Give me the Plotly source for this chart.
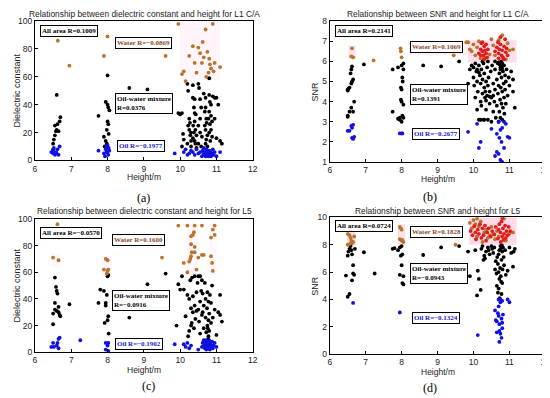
import plotly.graph_objects as go

# ---------------- DATA ----------------
# Panel (a): dielectric constant vs height, L1 C/A
a_water_x = [6.63, 6.95, 7.9, 8.0, 9.6, 9.95, 10.05, 10.1, 10.15, 10.25, 10.35, 10.4, 10.45, 10.5, 10.55, 10.6, 10.62, 10.7, 10.72, 10.75, 10.8, 10.82, 10.85, 10.9, 10.92, 10.95, 11.1, 10.65, 10.78]
a_water_y = [86, 68, 75, 89, 75, 98, 62, 64, 57, 75, 82, 70, 63, 81, 77, 70, 85, 94, 60, 78, 73, 69, 66, 98, 64, 70, 67, 74, 63]
a_mix_x = [6.5, 6.52, 6.55, 6.58, 6.6, 6.62, 6.55, 6.65, 6.68, 6.7, 6.6, 6.5,
           7.75, 7.9, 7.95, 7.98, 8.0, 8.02, 7.95, 8.0, 8.02, 8.05, 7.98, 8.03, 8.0, 7.92,
           8.6, 9.1, 9.95, 10.05,
           10.0, 10.08, 10.1, 10.05, 10.2, 10.22, 10.25, 10.25, 10.28, 10.2, 10.3, 10.3, 10.22, 10.27, 10.3,
           10.35, 10.35, 10.38, 10.4, 10.4, 10.42, 10.45, 10.35, 10.4, 10.42, 10.45, 10.38, 10.4, 10.43, 10.36,
           10.5, 10.52, 10.55, 10.58, 10.5, 10.55, 10.6, 10.5, 10.58, 10.55,
           10.65, 10.7, 10.7, 10.72, 10.68, 10.7, 10.75, 10.72, 10.7, 10.75, 10.68, 10.73,
           10.8, 10.8, 10.82, 10.85, 10.8, 10.78, 10.82, 10.85, 10.8, 10.88, 10.83, 10.9, 10.85, 10.88,
           10.95, 11.0, 11.05, 11.0, 11.1, 11.15, 10.95]
a_mix_y = [12, 15, 18, 21, 22, 26, 25, 21, 28, 31, 47, 8,
           32, 17, 14, 22, 28, 26, 42, 40, 38, 36, 12, 19, 61, 10,
           52, 51, 34, 34,
           33, 19, 15, 10, 55, 50, 30, 22, 18, 12, 14, 10, 25, 27, 20,
           54, 45, 38, 34, 28, 22, 18, 16, 14, 12, 9, 20, 44, 33, 25,
           55, 52, 44, 38, 25, 20, 17, 12, 10, 30,
           48, 45, 38, 30, 25, 22, 18, 15, 12, 10, 35, 27,
           59, 47, 42, 40, 35, 30, 26, 22, 20, 17, 14, 46, 32, 28,
           45, 45, 40, 16, 14, 12, 30]
a_oil_x = [6.45, 6.5, 6.52, 6.55, 6.58, 6.62, 6.65, 6.68, 6.6, 6.5,
           7.75, 7.9, 7.95, 7.98, 8.0, 8.02, 8.03, 8.05, 7.93, 8.0, 7.97,
           9.85, 10.1, 10.15, 10.2, 10.25, 10.3, 10.35, 10.4, 10.45, 10.5, 10.55, 10.6, 10.62, 10.65, 10.68,
           10.7, 10.7, 10.72, 10.74, 10.75, 10.76, 10.78, 10.8, 10.8, 10.82, 10.84, 10.85, 10.88, 10.9,
           10.92, 10.95, 11.0, 11.1, 10.72, 10.77, 10.82, 10.65]
a_oil_y = [6, 5, 9, 4, 6, 8, 4, 10, 5, 7,
           7, 5, 8, 10, 6, 4, 9, 7, 3, 11, 6,
           5, 6, 8, 4, 5, 7, 6, 4, 8, 5, 6, 3, 7, 5, 4,
           6, 3, 8, 5, 4, 6, 3, 5, 7, 4, 6, 3, 5, 8,
           4, 6, 3, 6, 5.5, 4.5, 6.5, 9]

# Panel (b): SNR vs height, L1 C/A
b_water_x = [6.62, 6.6, 6.65, 7.22, 7.97, 7.98, 8.0, 9.45, 9.8, 9.85, 9.9, 9.95, 10.0, 10.05, 10.1, 10.15, 10.3, 10.45, 10.5, 10.55, 10.6, 10.7, 10.8, 10.9, 11.0, 11.1, 10.95, 10.2]
b_water_y = [6.65, 6.25, 6.2, 6.05, 6.65, 6.5, 6.2, 6.3, 6.95, 6.95, 6.6, 6.5, 6.85, 6.3, 6.7, 7.0, 6.2, 6.35, 7.1, 6.8, 6.3, 7.05, 7.3, 6.1, 6.55, 6.6, 6.9, 6.15]
b_red_x = [10.15, 10.2, 10.22, 10.25, 10.28, 10.3, 10.32, 10.35, 10.38, 10.3, 10.25, 10.4, 10.6, 10.65, 10.7, 10.72, 10.75, 10.78, 10.8, 10.82, 10.85, 10.88, 10.9, 10.92, 10.95, 10.75, 10.7, 10.85, 10.68, 10.2, 10.35]
b_red_y = [6.4, 6.6, 6.9, 6.5, 6.3, 6.75, 6.55, 6.4, 6.2, 6.1, 6.95, 6.6, 6.5, 6.7, 6.4, 6.6, 6.85, 6.3, 6.55, 6.2, 6.75, 7.1, 6.45, 6.65, 6.3, 7.2, 6.15, 6.1, 6.95, 6.3, 6.85]
b_mix_x = [6.5, 6.5, 6.55, 6.6, 6.65, 6.68, 6.5, 6.52, 6.55, 6.6, 6.62, 6.65, 6.6, 6.62, 6.58, 6.5, 6.95,
           7.75, 7.75, 7.9, 7.95, 7.95, 8.0, 8.02, 8.05, 7.98, 8.0, 8.03, 8.02, 8.05, 8.0, 8.05, 7.98, 8.0, 8.05, 7.9,
           8.6, 9.1, 9.6, 9.85,
           9.9, 9.95, 10.0, 10.0, 10.02, 10.05, 10.05, 10.08, 10.1, 10.1, 10.12, 10.15, 10.15, 10.18, 10.2, 10.2,
           10.22, 10.22, 10.25, 10.25, 10.28, 10.28, 10.3, 10.3, 10.32, 10.35, 10.35, 10.38, 10.38, 10.4, 10.4,
           10.42, 10.45, 10.45, 10.48, 10.5, 10.5, 10.52, 10.55, 10.55, 10.58, 10.6, 10.6, 10.62, 10.65, 10.65,
           10.68, 10.68, 10.7, 10.7, 10.72, 10.72, 10.74, 10.75, 10.75, 10.76, 10.78, 10.78, 10.8, 10.8, 10.8,
           10.82, 10.82, 10.84, 10.85, 10.85, 10.86, 10.88, 10.88, 10.9, 10.9, 10.92, 10.95, 10.98, 11.0, 11.05,
           11.1, 11.1, 11.15, 10.3, 10.2, 10.25, 10.4, 10.6, 10.7, 10.78, 10.75, 10.8, 10.73, 10.77, 10.35,
           10.45, 10.55, 10.33, 10.1, 10.15]
b_mix_y = [3.3, 3.25, 3.5, 3.7, 3.5, 4.0, 4.6, 4.65, 4.7, 4.9, 5.0, 5.1, 5.6, 5.75, 5.4, 4.55, 5.85,
           5.6, 3.5, 5.7, 3.2, 3.1, 3.0, 3.3, 3.2, 4.7, 4.6, 5.0, 5.2, 5.6, 5.8, 5.9, 4.1, 4.0, 3.85, 3.15,
           5.8, 5.75, 6.0, 4.9,
           5.6, 5.8, 5.7, 5.2, 4.8, 5.9, 4.2, 5.5, 5.0, 3.6, 4.5, 5.8, 3.1, 5.3, 4.9, 4.0,
           5.6, 3.8, 5.1, 4.4, 5.9, 3.1, 4.7, 5.4, 4.2, 5.0, 3.6, 4.3, 5.7, 4.8, 3.1,
           5.2, 4.5, 3.9, 5.5, 4.2, 3.0, 5.8, 4.9, 3.5, 4.0, 5.6, 4.6, 3.2, 5.1, 3.8,
           4.4, 5.9, 3.0, 4.8, 5.4, 3.5, 4.1, 5.7, 3.2, 4.7, 5.2, 3.9, 5.9, 4.5, 3.1,
           5.5, 3.7, 4.9, 5.8, 4.2, 3.4, 5.3, 4.6, 5.0, 3.9, 5.6, 4.3, 5.2, 4.8, 5.5,
           5.1, 4.5, 3.7, 3.1, 3.1, 6.0, 6.0, 6.0, 5.95, 5.75, 5.6, 5.65, 5.85, 6.0, 4.05,
           4.25, 4.3, 4.5, 5.6, 5.45]
b_oil_x = [6.5, 6.55, 6.62, 6.65, 6.62, 6.68, 6.65, 6.6, 7.95, 8.0, 8.02, 9.85,
           10.1, 10.15, 10.2, 10.5, 10.6, 10.65, 10.65, 10.7, 10.7, 10.75, 10.75, 10.8, 10.8, 10.85, 10.9,
           10.95, 11.0, 10.78, 10.72, 10.85]
b_oil_y = [2.55, 2.55, 2.7, 2.85, 2.2, 2.25, 2.15, 2.8, 2.42, 2.42, 2.42, 2.5,
           2.9, 1.7, 2.0, 2.65, 1.3, 2.4, 1.5, 1.4, 3.0, 2.6, 1.1, 1.0, 2.7, 1.7, 2.9,
           2.25, 2.2, 2.0, 2.2, 3.0]

# Panel (c): dielectric constant vs height, L5
c_water_x = [6.5, 6.62, 6.65, 6.65, 7.9, 7.95, 8.0, 8.0, 8.02, 7.98, 9.5, 9.95, 10.1, 10.2, 10.2, 10.25, 10.28, 10.3, 10.3, 10.32, 10.35, 10.38, 10.4, 10.4, 10.45, 10.5, 10.6, 10.6, 10.65, 10.85, 10.85, 10.88, 10.9, 10.9, 10.95, 10.95, 10.3, 10.4]
c_water_y = [71, 96, 86, 69, 62, 70, 69, 61, 62, 59, 71, 95, 67, 60, 95, 68, 70, 87, 81, 75, 88, 90, 95, 75, 62, 71, 95, 73, 73, 86, 72, 67, 92, 61, 95, 88, 72, 79]
c_mix_x = [6.5, 6.5, 6.55, 6.55, 6.58, 6.6, 6.62, 6.55, 6.6, 6.65, 6.68, 6.65, 6.7, 6.95,
           7.75, 7.8, 7.9, 7.95, 7.95, 7.98, 7.92, 8.0, 8.02, 8.03, 8.0, 8.02,
           8.6, 9.1, 9.6, 9.9, 9.95, 10.0,
           10.05, 10.1, 10.15, 10.2, 10.22, 10.25, 10.25, 10.28, 10.3, 10.3, 10.32, 10.35, 10.35, 10.38, 10.4,
           10.4, 10.42, 10.45, 10.48, 10.5, 10.5, 10.52, 10.55, 10.55, 10.58, 10.6, 10.6, 10.62, 10.65, 10.65,
           10.68, 10.7, 10.7, 10.72, 10.74, 10.75, 10.75, 10.78, 10.78, 10.8, 10.8, 10.82, 10.85, 10.85, 10.88,
           10.9, 10.95, 11.0, 11.05, 11.1, 11.1, 11.15, 10.78, 10.76, 10.77, 10.62, 10.45, 10.33, 10.55]
c_mix_y = [21, 29, 37, 56, 49, 46, 44, 32, 31, 30, 28, 34, 27, 36,
           37, 47, 46, 35, 37, 43, 22, 24, 27, 14, 57, 58,
           26, 51, 59, 20, 51, 47,
           57, 47, 27, 43, 12, 16, 40, 54, 33, 20, 22, 42, 30, 18, 57,
           35, 25, 45, 52, 57, 32, 23, 38, 14, 46, 54, 28, 44, 35, 18,
           52, 40, 26, 15, 33, 45, 20, 38, 12, 29, 16, 43, 22, 37, 50,
           26, 32, 13, 30, 43, 28, 23, 24, 18, 10, 30, 31, 56, 57]
c_oil_x = [6.45, 6.5, 6.52, 6.6, 6.62, 6.65, 6.68, 6.65, 7.25, 7.95, 8.0, 8.02, 7.95, 8.02, 9.85,
           10.1, 10.15, 10.2, 10.25, 10.3, 10.5, 10.6, 10.62, 10.65, 10.68, 10.7, 10.72, 10.74, 10.75, 10.76,
           10.78, 10.8, 10.8, 10.82, 10.84, 10.85, 10.88, 10.9, 10.92, 10.95, 11.0, 10.66, 10.7, 10.73, 10.77,
           10.79, 10.83, 10.71]
c_oil_y = [4, 7, 4, 5, 7, 10, 11, 3, 9, 7, 5, 7, 2, 1, 6,
           6, 4, 7, 3, 5, 2, 4, 7, 9, 3, 6, 2, 8, 5, 3,
           7, 4, 9, 2, 6, 4, 8, 3, 5, 7, 4, 5, 9, 4, 5.5,
           2.5, 7.5, 7]

# Panel (d): SNR vs height, L5
d_water_x = [6.5, 6.55, 6.58, 6.6, 6.62, 6.65, 6.68, 6.5, 6.55, 7.95, 7.98, 8.0, 8.0, 8.02, 8.05, 7.95, 9.5,
             9.9, 9.95, 10.0, 10.05, 10.1, 10.15, 10.2, 10.3, 10.35, 10.4, 10.45, 10.5, 10.55, 10.6, 10.65,
             10.7, 10.85, 10.9, 11.0, 11.1, 10.25, 10.1]
d_water_y = [8.8, 8.7, 8.5, 8.3, 8.1, 8.2, 8.6, 8.0, 8.05, 9.3, 9.2, 9.1, 8.3, 8.35, 8.2, 8.4, 8.0,
             9.6, 9.2, 9.8, 9.5, 9.9, 9.35, 9.7, 8.9, 9.1, 8.5, 8.7, 9.3, 8.8, 8.4, 9.0,
             8.6, 9.9, 8.3, 8.8, 8.9, 8.2, 8.6]
d_red_x = [9.92, 9.97, 10.02, 10.07, 10.12, 10.15, 10.18, 10.22, 10.25, 10.28, 10.32, 10.35, 10.38, 10.42,
           10.48, 10.52, 10.58, 10.62, 10.68, 10.72, 10.75, 10.78, 10.8, 10.82, 10.85, 10.88, 10.9, 10.92,
           10.95, 10.98, 11.02, 10.76, 10.8, 10.7, 10.83, 10.05]
d_red_y = [9.0, 8.7, 9.35, 8.4, 9.1, 8.8, 9.5, 8.5, 9.2, 8.7, 9.4, 8.3, 8.9, 9.2,
           8.6, 9.0, 8.75, 9.3, 8.45, 9.5, 8.9, 9.7, 8.6, 9.2, 8.8, 9.4, 8.5, 9.0,
           8.7, 9.3, 9.0, 8.2, 9.95, 9.1, 8.35, 8.9]
d_mix_x = [6.45, 6.5, 6.55, 6.5, 6.52, 6.55, 6.58, 6.6, 6.62, 6.65, 6.65, 6.62, 6.68, 6.7, 6.95, 7.25,
           7.75, 7.8, 7.9, 7.95, 7.98, 8.0, 8.02, 8.0, 8.05, 7.95, 8.05, 8.02,
           8.6, 9.1, 9.6, 9.85, 9.9,
           10.05, 10.1, 10.12, 10.15, 10.2, 10.22, 10.25, 10.28, 10.3, 10.32, 10.35, 10.4, 10.42, 10.45, 10.5,
           10.52, 10.55, 10.58, 10.6, 10.62, 10.64, 10.65, 10.66, 10.68, 10.7, 10.7, 10.72, 10.72, 10.74, 10.75,
           10.76, 10.78, 10.78, 10.8, 10.8, 10.82, 10.84, 10.85, 10.88, 10.9, 10.95, 11.0, 11.05, 11.1, 11.12,
           11.15, 10.7, 10.73, 10.68, 10.76, 10.79, 10.81, 10.77]
d_mix_y = [5.75, 4.2, 4.4, 7.2, 7.5, 7.7, 7.9, 7.6, 7.3, 6.5, 5.9, 5.4, 5.8, 7.7, 7.45, 5.9,
           7.7, 7.75, 7.6, 7.8, 7.2, 7.9, 7.3, 6.5, 5.7, 5.8, 5.1, 5.2,
           7.25, 7.8, 7.9, 7.5, 5.7,
           7.6, 4.3, 6.1, 5.5, 4.7, 7.7, 7.9, 6.9, 7.2, 7.0, 7.5, 7.8, 7.6, 7.3, 7.9,
           7.7, 7.4, 7.8, 6.2, 6.8, 5.9, 5.0, 7.1, 6.6, 6.0, 7.3, 5.5, 7.6, 6.3, 7.9,
           5.7, 4.4, 6.9, 7.5, 5.2, 7.8, 7.1, 6.5, 7.6, 5.8, 6.1, 7.8, 7.4, 6.4, 7.5,
           7.7, 4.8, 4.1, 4.5, 7.7, 7.95, 6.2, 5.3]
d_oil_x = [6.65, 7.95, 10.12, 10.6, 10.62, 10.65, 10.7, 10.7, 10.72, 10.72, 10.75, 10.75, 10.78, 10.78,
           10.8, 10.8, 10.82, 10.7, 10.68, 10.65, 11.0, 10.95, 10.72, 10.75, 10.8]
d_oil_y = [3.75, 3.05, 1.4, 3.2, 2.5, 2.4, 3.5, 2.8, 1.7, 0.9, 3.8, 4.0, 1.2, 2.6,
           3.9, 1.9, 2.9, 4.0, 3.0, 1.6, 3.8, 4.0, 2.2, 1.5, 2.3]

titles = ["Relationship between dielectric constant and height for L1 C/A",
          "Relationship between SNR and height for L1 C/A",
          "Relationship between dielectric constant and height for L5",
          "Relationship between SNR and height for L5"]
panel_tags = ["(a)", "(b)", "(c)", "(d)"]
y_titles = ["Dielectric constant", "SNR", "Dielectric constant", "SNR"]
all_labels = ["All area R=0.1009", "All area R=0.2141", "All area R=−0.0570", "All area R=0.0724"]
water_labels = ["Water R=−0.0869", "Water R=0.1069", "Water R=0.1600", "Water R=0.1828"]
mix_labels = ["Oil-water mixture<br>R=0.0376", "Oil-water mixture<br>R=0.1391",
              "Oil-water mixture<br>R=−0.0916", "Oil-water mixture<br>R=−0.0943"]
oil_labels = ["Oil R=−0.1977", "Oil R=−0.2677", "Oil R=−0.1902", "Oil R=−0.1324"]

# ---------------- STYLE / LAYOUT ----------------
WATER_C = "#b8742a"
RED_C = "#e41a1a"
MIX_C = "#000000"
OIL_C = "#1010e0"

x_domains = [[0.049, 0.445], [0.585, 0.977], [0.049, 0.445], [0.585, 0.977]]
y_domains = [[0.617, 0.967], [0.613, 0.967], [0.135, 0.470], [0.130, 0.474]]
y_ranges = [[0, 100], [1, 8], [0, 100], [0, 10]]
y_dticks = [20, 1, 20, 2]
# label positions in data coords (x, y-top)
all_pos = [(6.14, 97), (6.14, 7.8), (6.14, 94.2), (6.14, 9.8)]
water_pos = [(8.2, 88.5), (8.23, 7.0), (8.12, 88.5), (8.23, 9.37)]
mix_pos = [(8.2, 48.2), (8.23, 4.9), (8.12, 46.8), (8.23, 6.7)]
oil_pos = [(8.25, 14.4), (8.29, 2.68), (8.2, 10.8), (8.29, 3.08)]
title_pos = [(0.249, 0.986), (0.781, 0.986), (0.249, 0.489), (0.781, 0.489)]
tag_pos = [(0.247, 0.522), (0.768, 0.526), (0.255, 0.050), (0.768, 0.045)]
xlab_pos = [(0.247, 0.575), (0.781, 0.570), (0.247, 0.090), (0.781, 0.085)]
ylab_pos = [(0.016, 0.792), (0.558, 0.790), (0.016, 0.302), (0.558, 0.302)]

# pink highlight regions (x0, x1, y0, y1)
pink = [
    [(10.0, 11.1, 58, 100, "rgba(255,200,225,0.18)")],
    [(6.52, 6.72, 6.1, 6.8, "rgba(255,190,215,0.45)"), (9.85, 11.2, 5.95, 7.05, "rgba(255,190,215,0.5)"),
     (8.2, 9.85, 6.3, 6.95, "rgba(255,210,225,0.35)")],
    [(10.15, 10.5, 58, 97, "rgba(255,215,235,0.22)"), (10.8, 11.0, 58, 97, "rgba(255,215,235,0.22)"),
     (6.45, 6.7, 64, 74, "rgba(255,215,235,0.22)"), (7.85, 8.1, 57, 72, "rgba(255,215,235,0.22)")],
    [(6.48, 6.72, 7.9, 9.0, "rgba(255,190,215,0.5)"), (7.9, 8.1, 8.0, 9.5, "rgba(255,190,215,0.5)"),
     (9.88, 11.2, 8.0, 10.0, "rgba(255,190,215,0.55)")],
]

data = [
    (a_water_x, a_water_y, [], [], a_mix_x, a_mix_y, a_oil_x, a_oil_y),
    (b_water_x, b_water_y, b_red_x, b_red_y, b_mix_x, b_mix_y, b_oil_x, b_oil_y),
    (c_water_x, c_water_y, [], [], c_mix_x, c_mix_y, c_oil_x, c_oil_y),
    (d_water_x, d_water_y, d_red_x, d_red_y, d_mix_x, d_mix_y, d_oil_x, d_oil_y),
]

fig = go.Figure()
annotations = []
shapes = []
serif = "Liberation Serif, Times New Roman, serif"
sans = "Liberation Sans, Arial, sans-serif"

for i in range(4):
    n = "" if i == 0 else str(i + 1)
    xa, ya = "x" + n, "y" + n
    wx, wy, rx, ry, mx, my, ox, oy = data[i]
    for xs, ys, col in [(mx, my, MIX_C), (ox, oy, OIL_C), (wx, wy, WATER_C), (rx, ry, RED_C)]:
        if xs:
            fig.add_trace(go.Scatter(x=xs, y=ys, mode="markers", xaxis=xa, yaxis=ya,
                                     marker=dict(size=3.8, color=col), showlegend=False))
    axis_common = dict(showline=True, linecolor="black", linewidth=1, mirror=True, automargin=False,
                       ticks="inside", ticklen=3, tickcolor="black", showgrid=False, zeroline=False,
                       tickfont=dict(family=sans, size=8.5, color="#222"))
    fig.layout["xaxis" + n] = dict(axis_common, domain=x_domains[i], range=[6, 12], dtick=1,
                                   anchor=ya)
    fig.layout["yaxis" + n] = dict(axis_common, domain=y_domains[i], range=y_ranges[i],
                                   dtick=y_dticks[i], anchor=xa)
    for (x0, x1, y0, y1, c) in pink[i]:
        shapes.append(dict(type="rect", xref=xa, yref=ya, x0=x0, x1=x1, y0=y0, y1=y1,
                           fillcolor=c, line=dict(width=0), layer="below"))
    box = dict(xref=xa, yref=ya, xanchor="left", yanchor="top", showarrow=False,
               bordercolor="black", borderwidth=1, borderpad=1, bgcolor="white", align="left")
    annotations.append(dict(box, x=all_pos[i][0], y=all_pos[i][1], text="<b>%s</b>" % all_labels[i],
                            font=dict(family=serif, size=7, color="black")))
    annotations.append(dict(box, x=water_pos[i][0], y=water_pos[i][1], text="<b>%s</b>" % water_labels[i],
                            font=dict(family=serif, size=7, color="#8b4a2b")))
    annotations.append(dict(box, x=mix_pos[i][0], y=mix_pos[i][1], text="<b>%s</b>" % mix_labels[i],
                            font=dict(family=serif, size=7, color="black")))
    annotations.append(dict(box, x=oil_pos[i][0], y=oil_pos[i][1], text="<b>%s</b>" % oil_labels[i],
                            font=dict(family=serif, size=7, color="#1a1ad0")))
    annotations.append(dict(xref="paper", yref="paper", x=title_pos[i][0], y=title_pos[i][1],
                            xanchor="center", yanchor="middle", showarrow=False, text=titles[i],
                            font=dict(family=sans, size=8.4, color="#222")))
    annotations.append(dict(xref="paper", yref="paper", x=xlab_pos[i][0], y=xlab_pos[i][1],
                            xanchor="center", yanchor="middle", showarrow=False, text="Height/m",
                            font=dict(family=sans, size=8.5, color="#222")))
    annotations.append(dict(xref="paper", yref="paper", x=ylab_pos[i][0], y=ylab_pos[i][1],
                            xanchor="center", yanchor="middle", showarrow=False, text=y_titles[i],
                            textangle=-90, font=dict(family=sans, size=9, color="#222")))
    annotations.append(dict(xref="paper", yref="paper", x=tag_pos[i][0], y=tag_pos[i][1],
                            xanchor="center", yanchor="middle", showarrow=False, text=panel_tags[i],
                            font=dict(family=serif, size=12, color="black")))

fig.update_layout(width=550, height=398, margin=dict(l=0, r=0, t=0, b=0, autoexpand=False),
                  paper_bgcolor="white", plot_bgcolor="white",
                  annotations=annotations, shapes=shapes, showlegend=False)
fig.write_html("out.html")
